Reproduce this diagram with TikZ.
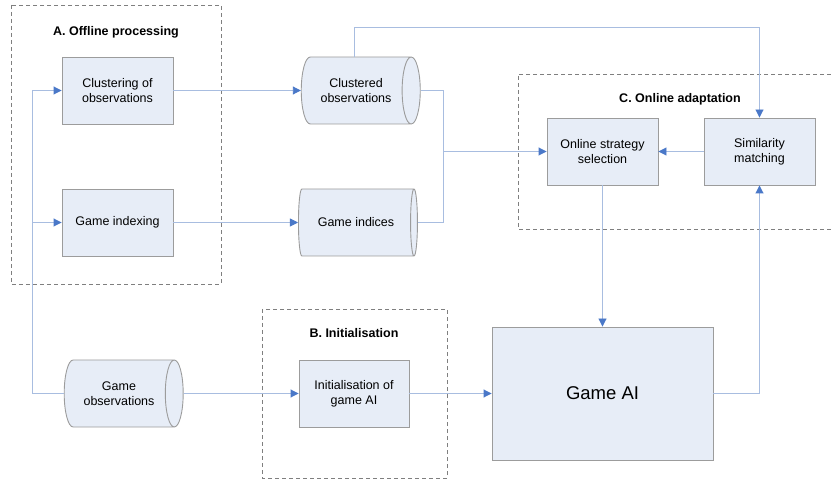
\documentclass[tikz,border=0pt]{standalone}
\usepackage{fontspec}
\setmainfont{Liberation Sans}
\usetikzlibrary{arrows.meta,shapes.geometric}
\definecolor{boxfill}{HTML}{E7EDF7}
\definecolor{boxdraw}{HTML}{9C9C9C}
\definecolor{linec}{HTML}{A8BDE0}
\definecolor{tipc}{HTML}{4A78C8}
\definecolor{dashc}{HTML}{7F7F7F}
\begin{document}
\begin{tikzpicture}[x=1pt,y=-1pt,
 procbox/.style={draw=boxdraw,fill=boxfill,line width=0.9pt,minimum width=111pt,minimum height=67pt,align=center,font=\fontsize{12.5}{15}\selectfont,inner sep=0pt},
 store/.style={shape=cylinder,draw=boxdraw,line width=0.9pt,cylinder uses custom fill,cylinder body fill=boxfill,cylinder end fill=boxfill,minimum height=119pt,minimum width=67pt,aspect=0.75,align=center,font=\fontsize{12.5}{15}\selectfont,inner sep=0pt},
 grp/.style={draw=dashc,dash pattern=on 4pt off 3pt,line width=0.8pt},
 title/.style={font=\bfseries\fontsize{12.5}{15}\selectfont},
 conn/.style={draw=linec,line width=0.9pt},
 arr/.style={conn,-{Triangle[length=8pt,width=8pt,color=tipc]}}
]
\useasboundingbox (0,0) rectangle (831,481);
% groups
\draw[grp] (11,5) rectangle (221,284);
\draw[grp] (262,309) rectangle (447,478);
\draw[grp] (831,74) -- (518,74) -- (518,229) -- (831,229);
\node[title] (ta) at (116,32) {A. Offline processing};
\node[title] (tb) at (354,333) {B. Initialisation};
\node[title] (tc) at (680,99) {C. Online adaptation};
% nodes
\node[procbox] (clus) at (117.5,90.5) {Clustering of\\observations};
\node[procbox] (gidx) at (117.5,222.5) {Game indexing};
\node[store] (co) at (356,90.5) {Clustered\\observations};
\node[store] (gi) at (356,222.5) {Game indices};
\node[store] (gobs) at (119,393.5) {Game\\observations};
\node[procbox,minimum width=110pt] (init) at (354,393.5) {Initialisation of\\game AI};
\node[procbox,minimum width=221pt,minimum height=133pt,font=\fontsize{18.5}{22}\selectfont] (gai) at (602.5,393.5) {Game AI};
\node[procbox] (oss) at (602.5,151.5) {Online strategy\\selection};
\node[procbox] (sim) at (759.5,151.5) {Similarity\\matching};
% helper coordinates
\coordinate (fb) at (32,0);
\coordinate (mx) at (443,0);
\coordinate (topc) at (0,27);
% connectors
\draw[arr] (clus.east) -- (co.west);
\draw[arr] (gidx.east) -- (gi.west);
\draw[conn] (gobs.west) -| (fb |- clus.west);
\draw[arr] (fb |- clus.west) -- (clus.west);
\draw[arr] (fb |- gidx.west) -- (gidx.west);
\draw[arr] (gobs.east) -- (init.west);
\draw[arr] (init.east) -- (gai.west);
\draw[conn] (co.east) -| (mx |- gi.east) -- (gi.east);
\draw[arr] (mx |- oss.west) -- (oss.west);
\draw[arr] ([xshift=-2pt]co.north) -- ([xshift=-2pt]co.north |- topc) -| (sim.north);
\draw[arr] (sim.west) -- (oss.east);
\draw[arr] (oss.south) -- (gai.north);
\draw[arr] (gai.east) -| (sim.south);
\end{tikzpicture}
\end{document}
